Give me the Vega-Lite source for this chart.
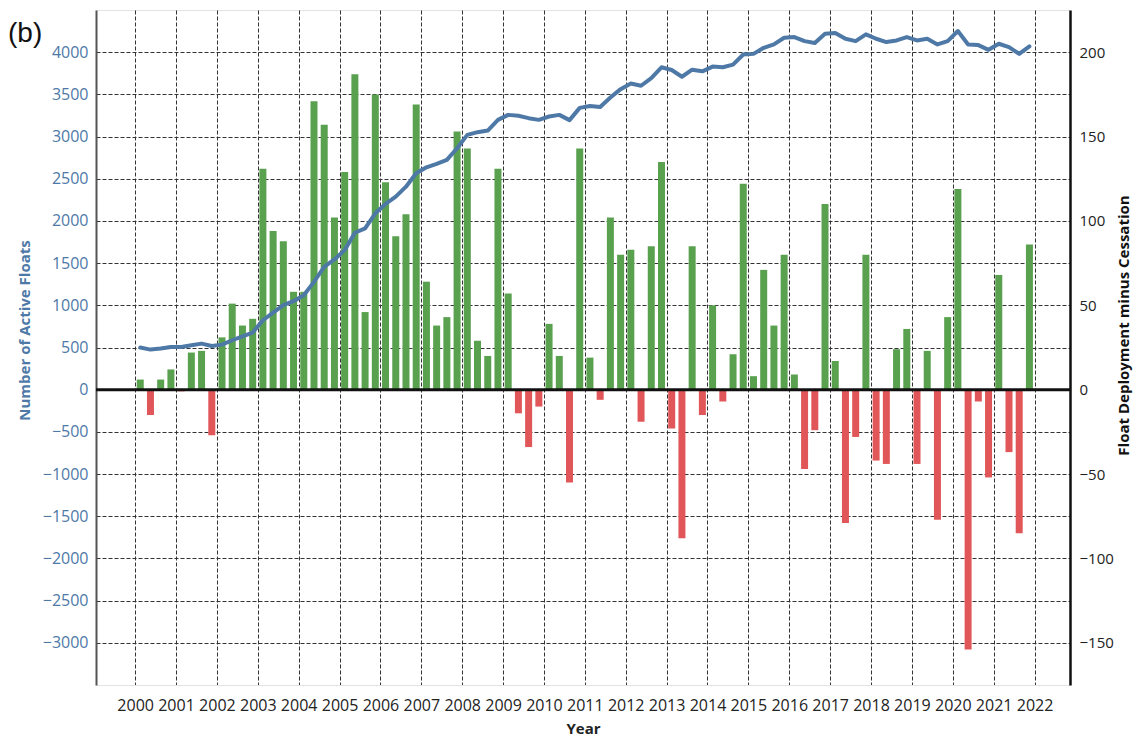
{
  "$schema": "https://vega.github.io/schema/vega-lite/v6.json",
  "width": 974,
  "height": 675,
  "autosize": {"type": "none"},
  "padding": {"left": 96, "top": 10, "right": 76, "bottom": 55},
  "background": "white",
  "config": {
    "view": {"stroke": "#e3e3e3", "strokeWidth": 1},
    "font": "Open Sans"
  },
  "title": {
    "text": "(b)",
    "anchor": "start",
    "frame": "group",
    "orient": "top",
    "offset": -60,
    "dx": -88,
    "baseline": "alphabetic",
    "font": "Liberation Sans",
    "fontSize": 28,
    "fontWeight": "normal",
    "color": "#111111"
  },
  "datasets": {
    "bars": [
      {"t": 2000.125, "net": 6}, {"t": 2000.375, "net": -15}, {"t": 2000.625, "net": 6}, {"t": 2000.875, "net": 12},
      {"t": 2001.125, "net": -1}, {"t": 2001.375, "net": 22}, {"t": 2001.625, "net": 23}, {"t": 2001.875, "net": -27},
      {"t": 2002.125, "net": 31}, {"t": 2002.375, "net": 51}, {"t": 2002.625, "net": 38}, {"t": 2002.875, "net": 42},
      {"t": 2003.125, "net": 131}, {"t": 2003.375, "net": 94}, {"t": 2003.625, "net": 88}, {"t": 2003.875, "net": 58},
      {"t": 2004.125, "net": 58}, {"t": 2004.375, "net": 171}, {"t": 2004.625, "net": 157}, {"t": 2004.875, "net": 102},
      {"t": 2005.125, "net": 129}, {"t": 2005.375, "net": 187}, {"t": 2005.625, "net": 46}, {"t": 2005.875, "net": 175},
      {"t": 2006.125, "net": 123}, {"t": 2006.375, "net": 91}, {"t": 2006.625, "net": 104}, {"t": 2006.875, "net": 169},
      {"t": 2007.125, "net": 64}, {"t": 2007.375, "net": 38}, {"t": 2007.625, "net": 43}, {"t": 2007.875, "net": 153},
      {"t": 2008.125, "net": 143}, {"t": 2008.375, "net": 29}, {"t": 2008.625, "net": 20}, {"t": 2008.875, "net": 131},
      {"t": 2009.125, "net": 57}, {"t": 2009.375, "net": -14}, {"t": 2009.625, "net": -34}, {"t": 2009.875, "net": -10},
      {"t": 2010.125, "net": 39}, {"t": 2010.375, "net": 20}, {"t": 2010.625, "net": -55}, {"t": 2010.875, "net": 143},
      {"t": 2011.125, "net": 19}, {"t": 2011.375, "net": -6}, {"t": 2011.625, "net": 102}, {"t": 2011.875, "net": 80},
      {"t": 2012.125, "net": 83}, {"t": 2012.375, "net": -19}, {"t": 2012.625, "net": 85}, {"t": 2012.875, "net": 135},
      {"t": 2013.125, "net": -23}, {"t": 2013.375, "net": -88}, {"t": 2013.625, "net": 85}, {"t": 2013.875, "net": -15},
      {"t": 2014.125, "net": 50}, {"t": 2014.375, "net": -7}, {"t": 2014.625, "net": 21}, {"t": 2014.875, "net": 122},
      {"t": 2015.125, "net": 8}, {"t": 2015.375, "net": 71}, {"t": 2015.625, "net": 38}, {"t": 2015.875, "net": 80},
      {"t": 2016.125, "net": 9}, {"t": 2016.375, "net": -47}, {"t": 2016.625, "net": -24}, {"t": 2016.875, "net": 110},
      {"t": 2017.125, "net": 17}, {"t": 2017.375, "net": -79}, {"t": 2017.625, "net": -28}, {"t": 2017.875, "net": 80},
      {"t": 2018.125, "net": -42}, {"t": 2018.375, "net": -44}, {"t": 2018.625, "net": 24}, {"t": 2018.875, "net": 36},
      {"t": 2019.125, "net": -44}, {"t": 2019.375, "net": 23}, {"t": 2019.625, "net": -77}, {"t": 2019.875, "net": 43},
      {"t": 2020.125, "net": 119}, {"t": 2020.375, "net": -154}, {"t": 2020.625, "net": -7}, {"t": 2020.875, "net": -52},
      {"t": 2021.125, "net": 68}, {"t": 2021.375, "net": -37}, {"t": 2021.625, "net": -85}, {"t": 2021.875, "net": 86}
    ],
    "floats": [
      {"t": 2000.125, "n": 499}, {"t": 2000.375, "n": 475}, {"t": 2000.625, "n": 487}, {"t": 2000.875, "n": 507},
      {"t": 2001.125, "n": 507}, {"t": 2001.375, "n": 526}, {"t": 2001.625, "n": 546}, {"t": 2001.875, "n": 518},
      {"t": 2002.125, "n": 534}, {"t": 2002.375, "n": 586}, {"t": 2002.625, "n": 633}, {"t": 2002.875, "n": 677},
      {"t": 2003.125, "n": 823}, {"t": 2003.375, "n": 914}, {"t": 2003.625, "n": 1001}, {"t": 2003.875, "n": 1049},
      {"t": 2004.125, "n": 1120}, {"t": 2004.375, "n": 1278}, {"t": 2004.625, "n": 1457}, {"t": 2004.875, "n": 1544},
      {"t": 2005.125, "n": 1654}, {"t": 2005.375, "n": 1860}, {"t": 2005.625, "n": 1912}, {"t": 2005.875, "n": 2090},
      {"t": 2006.125, "n": 2201}, {"t": 2006.375, "n": 2288}, {"t": 2006.625, "n": 2406}, {"t": 2006.875, "n": 2565},
      {"t": 2007.125, "n": 2636}, {"t": 2007.375, "n": 2676}, {"t": 2007.625, "n": 2723}, {"t": 2007.875, "n": 2862},
      {"t": 2008.125, "n": 3020}, {"t": 2008.375, "n": 3052}, {"t": 2008.625, "n": 3071}, {"t": 2008.875, "n": 3198},
      {"t": 2009.125, "n": 3257}, {"t": 2009.375, "n": 3246}, {"t": 2009.625, "n": 3218}, {"t": 2009.875, "n": 3198},
      {"t": 2010.125, "n": 3238}, {"t": 2010.375, "n": 3257}, {"t": 2010.625, "n": 3195}, {"t": 2010.875, "n": 3340},
      {"t": 2011.125, "n": 3363}, {"t": 2011.375, "n": 3351}, {"t": 2011.625, "n": 3462}, {"t": 2011.875, "n": 3562},
      {"t": 2012.125, "n": 3629}, {"t": 2012.375, "n": 3602}, {"t": 2012.625, "n": 3693}, {"t": 2012.875, "n": 3821},
      {"t": 2013.125, "n": 3789}, {"t": 2013.375, "n": 3709}, {"t": 2013.625, "n": 3793}, {"t": 2013.875, "n": 3773},
      {"t": 2014.125, "n": 3829}, {"t": 2014.375, "n": 3821}, {"t": 2014.625, "n": 3853}, {"t": 2014.875, "n": 3972},
      {"t": 2015.125, "n": 3980}, {"t": 2015.375, "n": 4052}, {"t": 2015.625, "n": 4092}, {"t": 2015.875, "n": 4171},
      {"t": 2016.125, "n": 4179}, {"t": 2016.375, "n": 4131}, {"t": 2016.625, "n": 4108}, {"t": 2016.875, "n": 4219},
      {"t": 2017.125, "n": 4227}, {"t": 2017.375, "n": 4159}, {"t": 2017.625, "n": 4131}, {"t": 2017.875, "n": 4211},
      {"t": 2018.125, "n": 4159}, {"t": 2018.375, "n": 4120}, {"t": 2018.625, "n": 4139}, {"t": 2018.875, "n": 4179},
      {"t": 2019.125, "n": 4139}, {"t": 2019.375, "n": 4159}, {"t": 2019.625, "n": 4092}, {"t": 2019.875, "n": 4131},
      {"t": 2020.125, "n": 4251}, {"t": 2020.375, "n": 4092}, {"t": 2020.625, "n": 4084}, {"t": 2020.875, "n": 4028},
      {"t": 2021.125, "n": 4100}, {"t": 2021.375, "n": 4060}, {"t": 2021.625, "n": 3980}, {"t": 2021.875, "n": 4068}
    ],
    "zero": [{"v": 0}]
  },
  "layer": [
    {
      "data": {"name": "bars"},
      "mark": {"type": "bar", "width": 7},
      "encoding": {
        "x": {
          "field": "t", "type": "quantitative",
          "scale": {"domain": [1999.165, 2022.745], "nice": false, "zero": false},
          "axis": {
            "values": [2000,2001,2002,2003,2004,2005,2006,2007,2008,2009,2010,2011,2012,2013,2014,2015,2016,2017,2018,2019,2020,2021,2022],
            "format": "d", "title": "Year", "grid": true, "gridColor": "#333333", "gridDash": [4, 2], "gridWidth": 1,
            "ticks": false, "domain": true, "domainColor": "#e3e3e3", "domainWidth": 1,
            "labelFontSize": 16, "labelColor": "#222222", "labelPadding": 12, "labelOverlap": false, "labelFlush": false,
            "titleFontSize": 15, "titleFontWeight": "bold", "titleColor": "#222222", "titlePadding": 8
          }
        },
        "y": {
          "field": "net", "type": "quantitative",
          "scale": {"domain": [-175, 225], "nice": false},
          "axis": {
            "orient": "right",
            "values": [-150, -100, -50, 0, 50, 100, 150, 200],
            "format": "d",
            "title": "Float Deployment minus Cessation", "titleAngle": 270, "titleY": 315,
            "grid": false, "ticks": false, "domain": true, "domainColor": "#111111", "domainWidth": 2.5,
            "labelFontSize": 15, "labelColor": "#222222", "labelPadding": 9,
            "titleFontSize": 15, "titleFontWeight": "bold", "titleColor": "#111111", "titlePadding": 18
          }
        },
        "color": {
          "condition": {"test": "datum.net < 0", "value": "#e15759"},
          "value": "#59a14f"
        }
      }
    },
    {
      "data": {"name": "zero"},
      "mark": {"type": "rule", "color": "#111111", "strokeWidth": 3},
      "encoding": {
        "y": {"field": "v", "type": "quantitative", "scale": {"domain": [-175, 225], "nice": false}, "axis": null}
      }
    },
    {
      "data": {"name": "floats"},
      "mark": {"type": "line", "color": "#4e79a7", "strokeWidth": 4, "strokeJoin": "round", "strokeCap": "round"},
      "encoding": {
        "x": {"field": "t", "type": "quantitative"},
        "y": {
          "field": "n", "type": "quantitative",
          "scale": {"domain": [-3500, 4500], "nice": false},
          "axis": {
            "orient": "left",
            "values": [-3000,-2500,-2000,-1500,-1000,-500,0,500,1000,1500,2000,2500,3000,3500,4000],
            "format": "d",
            "title": "Number of Active Floats", "titleY": 320,
            "grid": true, "gridColor": "#333333", "gridDash": [4, 2], "gridWidth": 1,
            "ticks": false, "domain": true, "domainColor": "#555555", "domainWidth": 2,
            "labelFontSize": 16, "labelColor": "#4e79a7", "labelPadding": 8,
            "titleFontSize": 15, "titleFontWeight": "bold", "titleColor": "#4e79a7", "titlePadding": 10
          }
        }
      }
    }
  ],
  "resolve": {"scale": {"y": "independent"}, "axis": {"y": "independent"}}
}
